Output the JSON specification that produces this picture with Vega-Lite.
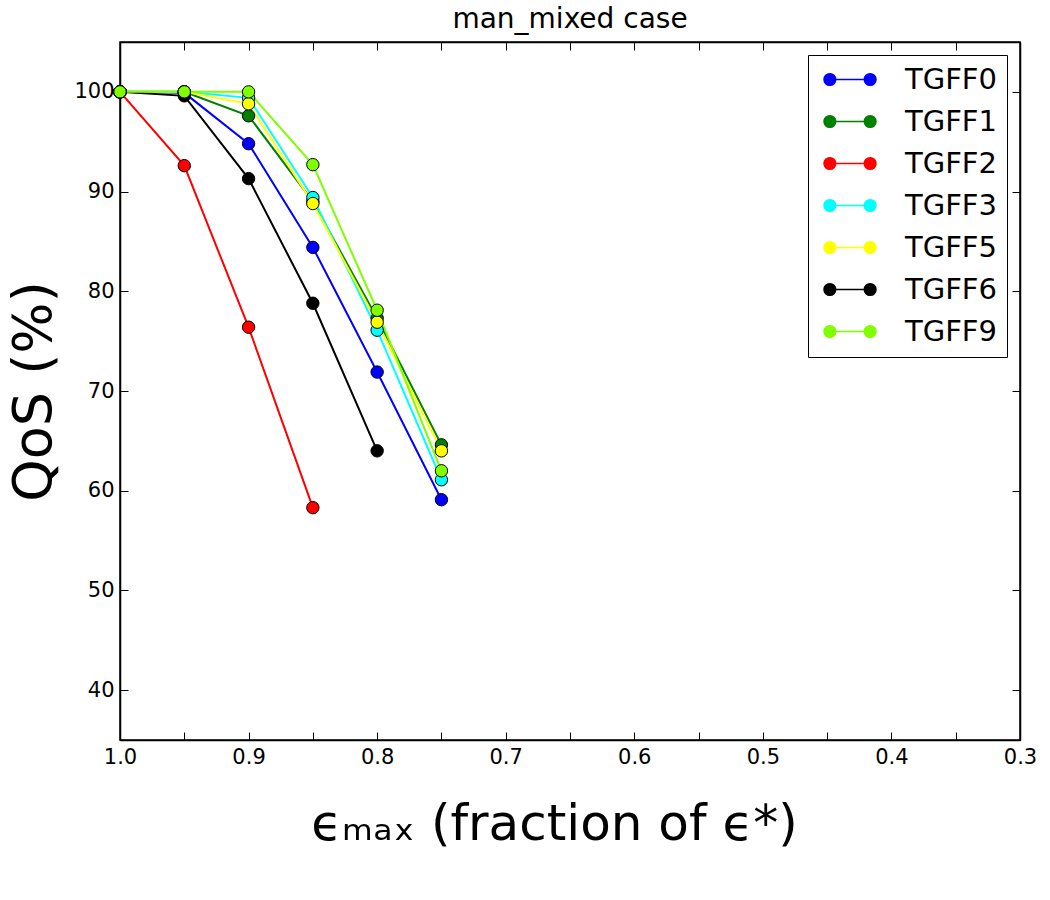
{
  "$schema": "https://vega.github.io/schema/vega-lite/v6.json",
  "autosize": {"type": "none"},
  "width": 900,
  "height": 698,
  "padding": {"left": 120, "top": 42, "right": 30, "bottom": 160},
  "background": "white",
  "title": {
    "text": "man_mixed case",
    "font": "DejaVu Sans",
    "fontSize": 28,
    "fontWeight": "normal",
    "color": "black",
    "offset": 8
  },
  "config": {
    "view": {"stroke": "black", "strokeWidth": 1.5},
    "font": "DejaVu Sans",
    "axis": {
      "grid": false,
      "domainColor": "black",
      "domainWidth": 1.5,
      "tickColor": "black",
      "tickWidth": 1,
      "tickSize": -8,
      "labelFlush": false,
      "labelFont": "DejaVu Sans",
      "labelFontSize": 21,
      "labelColor": "black",
      "titleFont": "DejaVu Sans",
      "titleFontWeight": "normal",
      "titleColor": "black"
    }
  },
  "data": {
    "values": [
      {"series": "TGFF0", "eps": 1.0, "qos": 100.0},
      {"series": "TGFF0", "eps": 0.95, "qos": 99.9},
      {"series": "TGFF0", "eps": 0.9, "qos": 94.8},
      {"series": "TGFF0", "eps": 0.85, "qos": 84.4},
      {"series": "TGFF0", "eps": 0.8, "qos": 71.9},
      {"series": "TGFF0", "eps": 0.75, "qos": 59.1},
      {"series": "TGFF1", "eps": 1.0, "qos": 100.0},
      {"series": "TGFF1", "eps": 0.95, "qos": 100.0},
      {"series": "TGFF1", "eps": 0.9, "qos": 97.6},
      {"series": "TGFF1", "eps": 0.85, "qos": 89.0},
      {"series": "TGFF1", "eps": 0.8, "qos": 77.3},
      {"series": "TGFF1", "eps": 0.75, "qos": 64.6},
      {"series": "TGFF2", "eps": 1.0, "qos": 100.0},
      {"series": "TGFF2", "eps": 0.95, "qos": 92.6},
      {"series": "TGFF2", "eps": 0.9, "qos": 76.4},
      {"series": "TGFF2", "eps": 0.85, "qos": 58.3},
      {"series": "TGFF3", "eps": 1.0, "qos": 100.0},
      {"series": "TGFF3", "eps": 0.95, "qos": 100.0},
      {"series": "TGFF3", "eps": 0.9, "qos": 99.4},
      {"series": "TGFF3", "eps": 0.85, "qos": 89.4},
      {"series": "TGFF3", "eps": 0.8, "qos": 76.1},
      {"series": "TGFF3", "eps": 0.75, "qos": 61.1},
      {"series": "TGFF5", "eps": 1.0, "qos": 100.0},
      {"series": "TGFF5", "eps": 0.95, "qos": 100.0},
      {"series": "TGFF5", "eps": 0.9, "qos": 98.8},
      {"series": "TGFF5", "eps": 0.85, "qos": 88.8},
      {"series": "TGFF5", "eps": 0.8, "qos": 76.9},
      {"series": "TGFF5", "eps": 0.75, "qos": 64.0},
      {"series": "TGFF6", "eps": 1.0, "qos": 100.0},
      {"series": "TGFF6", "eps": 0.95, "qos": 99.6},
      {"series": "TGFF6", "eps": 0.9, "qos": 91.3},
      {"series": "TGFF6", "eps": 0.85, "qos": 78.8},
      {"series": "TGFF6", "eps": 0.8, "qos": 64.0},
      {"series": "TGFF9", "eps": 1.0, "qos": 100.0},
      {"series": "TGFF9", "eps": 0.95, "qos": 100.0},
      {"series": "TGFF9", "eps": 0.9, "qos": 100.0},
      {"series": "TGFF9", "eps": 0.85, "qos": 92.7},
      {"series": "TGFF9", "eps": 0.8, "qos": 78.1},
      {"series": "TGFF9", "eps": 0.75, "qos": 62.0}
    ]
  },
  "layer": [
    {
      "mark": {"type": "line", "strokeWidth": 2},
      "encoding": {
        "x": {
          "field": "eps",
          "type": "quantitative",
          "scale": {"domain": [0.3, 1.0], "reverse": true, "nice": false, "zero": false},
          "axis": {
            "orient": "bottom",
            "values": [1.0, 0.95, 0.9, 0.85, 0.8, 0.75, 0.7, 0.65, 0.6, 0.55, 0.5, 0.45, 0.4, 0.35, 0.3],
            "labelExpr": "abs(datum.value * 10 - round(datum.value * 10)) < 0.001 ? format(datum.value, '.1f') : ''",
            "labelPadding": 14,
            "title": "ϵₘₐₓ (fraction of ϵ*)",
            "titleFontSize": 50,
            "titlePadding": 32,
            "titleX": 434
          }
        },
        "y": {
          "field": "qos",
          "type": "quantitative",
          "scale": {"domain": [35, 105], "nice": false, "zero": false},
          "axis": {
            "orient": "left",
            "values": [40, 50, 60, 70, 80, 90, 100],
            "labelPadding": 14,
            "title": "QoS (%)",
            "titleFontSize": 54,
            "titlePadding": 12
          }
        },
        "color": {
          "field": "series",
          "type": "nominal",
          "scale": {
            "domain": ["TGFF0", "TGFF1", "TGFF2", "TGFF3", "TGFF5", "TGFF6", "TGFF9"],
            "range": ["#0000ff", "#008000", "#ff0000", "#00ffff", "#ffff00", "#000000", "#7fff00"]
          },
          "legend": {
            "title": null,
            "orient": "top-right",
            "offset": 13,
            "padding": 10,
            "strokeColor": "black",
            "fillColor": "white",
            "cornerRadius": 0,
            "symbolType": "M-2,0L2,0M-1.1,0A0.45,0.45,0,1,1,-2,0A0.45,0.45,0,1,1,-1.1,0ZM2,0A0.45,0.45,0,1,1,1.1,0A0.45,0.45,0,1,1,2,0Z",
            "symbolSize": 676,
            "symbolStrokeWidth": 1.5,
            "labelFont": "DejaVu Sans",
            "labelFontSize": 29,
            "labelColor": "black",
            "labelOffset": 58,
            "rowPadding": 12,
            "encode": {
              "symbols": {
                "update": {
                  "fill": {"scale": "color", "field": "value"},
                  "stroke": {"scale": "color", "field": "value"},
                  "opacity": {"value": 1},
                  "xc": {"value": 32}
                }
              }
            }
          }
        }
      }
    },
    {
      "mark": {"type": "point", "shape": "circle", "filled": true, "size": 154, "stroke": "black", "strokeWidth": 1, "opacity": 1},
      "encoding": {
        "x": {
          "field": "eps",
          "type": "quantitative",
          "axis": {
            "orient": "top",
            "values": [1.0, 0.95, 0.9, 0.85, 0.8, 0.75, 0.7, 0.65, 0.6, 0.55, 0.5, 0.45, 0.4, 0.35, 0.3],
            "labels": false,
            "title": null
          }
        },
        "y": {
          "field": "qos",
          "type": "quantitative",
          "axis": {
            "orient": "right",
            "values": [40, 50, 60, 70, 80, 90, 100],
            "labels": false,
            "title": null
          }
        },
        "color": {"field": "series", "type": "nominal"}
      }
    }
  ],
  "resolve": {"axis": {"x": "independent", "y": "independent"}}
}
